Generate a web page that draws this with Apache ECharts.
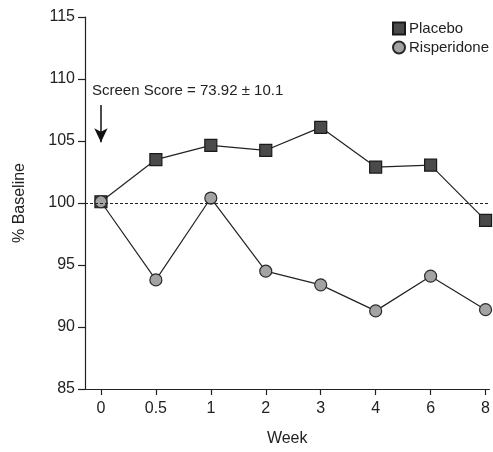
<!DOCTYPE html>
<html>
<head>
<meta charset="utf-8">
<script src="https://cdn.jsdelivr.net/npm/echarts@6/dist/echarts.min.js"></script>
<style>
html,body{margin:0;padding:0;background:#fff;}
#chart{width:493px;height:452px;}
</style>
</head>
<body>
<div id="chart"></div>
<script>
// weeks are equally spaced on the axis, shown by index
const weeks = ['0', '0.5', '1', '2', '3', '4', '6', '8'];
const placebo = [100.1, 103.5, 104.65, 104.25, 106.1, 102.9, 103.05, 98.6];
const risperidone = [100.1, 93.8, 100.4, 94.5, 93.4, 91.3, 94.1, 91.4];
const yTicks = [85, 90, 95, 100, 105, 110, 115];
const screenNote = 'Screen Score = 73.92 ± 10.1';

const idx = weeks.map(function (w, i) { return i; });
const font = 'Liberation Sans, Arial, sans-serif';

const myChart = echarts.init(document.getElementById('chart'));
let option = {
    animation: false,
    textStyle: { fontFamily: font },
    grid: { left: 85, right: 0, top: 17, bottom: 61 },
    legend: {
        left: 387,
        top: 16,
        orient: 'vertical',
        itemWidth: 12,
        itemHeight: 12,
        itemGap: 4,
        textStyle: { fontSize: 15, color: '#222', fontFamily: font, padding: [0, 0, 0, -1] },
        data: [
            { name: 'Placebo', icon: 'rect' },
            { name: 'Risperidone', icon: 'circle' }
        ]
    },
    xAxis: {
        type: 'value',
        min: -0.29,
        max: 7.07,
        name: 'Week',
        nameLocation: 'middle',
        nameGap: 42,
        nameTextStyle: { fontSize: 16, color: '#222' },
        splitLine: { show: false },
        axisLine: { onZero: false, lineStyle: { color: '#222', width: 1.2 } },
        axisTick: {
            customValues: idx,
            length: 6,
            lineStyle: { color: '#222', width: 1.2 }
        },
        axisLabel: {
            customValues: idx,
            fontSize: 16,
            color: '#222',
            margin: 12,
            formatter: function (v) { return weeks[Math.round(v)]; }
        }
    },
    yAxis: {
        type: 'value',
        min: 85,
        max: 115,
        interval: 5,
        name: '% Baseline',
        nameLocation: 'middle',
        nameGap: 57,
        nameTextStyle: { fontSize: 16, color: '#222' },
        splitLine: { show: false },
        axisLine: { show: true, onZero: false, lineStyle: { color: '#222', width: 1.2 } },
        axisTick: { show: true, length: 7, lineStyle: { color: '#222', width: 1.2 } },
        axisLabel: {
            fontSize: 16,
            color: '#222',
            margin: 10,
            formatter: function (v) { return yTicks.indexOf(v) >= 0 ? String(v) : ''; }
        }
    },
    graphic: [{
        type: 'text',
        left: 92,
        top: 83,
        style: { text: screenNote, fontSize: 15, fill: '#222', fontFamily: font }
    }],
    series: [{
        name: 'Placebo',
        type: 'line',
        z: 2,
        data: placebo.map(function (v, i) { return [i, v]; }),
        symbol: 'rect',
        symbolSize: 12,
        lineStyle: { color: '#222', width: 1.2 },
        itemStyle: { color: '#4a4a4a', borderColor: '#1a1a1a', borderWidth: 1.2 },
        markLine: {
            silent: true,
            symbol: 'none',
            label: { show: false },
            lineStyle: { color: '#222', type: [3, 2], width: 1 },
            data: [{ yAxis: 100 }]
        }
    }, {
        name: 'Risperidone',
        type: 'line',
        z: 3,
        data: risperidone.map(function (v, i) { return [i, v]; }),
        symbol: 'circle',
        symbolSize: 12,
        lineStyle: { color: '#222', width: 1.2 },
        itemStyle: { color: '#a3a3a3', borderColor: '#2a2a2a', borderWidth: 1.2 },
        markLine: {
            silent: true,
            symbol: ['none', 'arrow'],
            symbolSize: [10, 14],
            label: { show: false },
            lineStyle: { color: '#111', type: 'solid', width: 1.5 },
            data: [[{ coord: [0, 107.9] }, { coord: [0, 104.9] }]]
        }
    }]
};
myChart.setOption(option);
</script>
</body>
</html>
